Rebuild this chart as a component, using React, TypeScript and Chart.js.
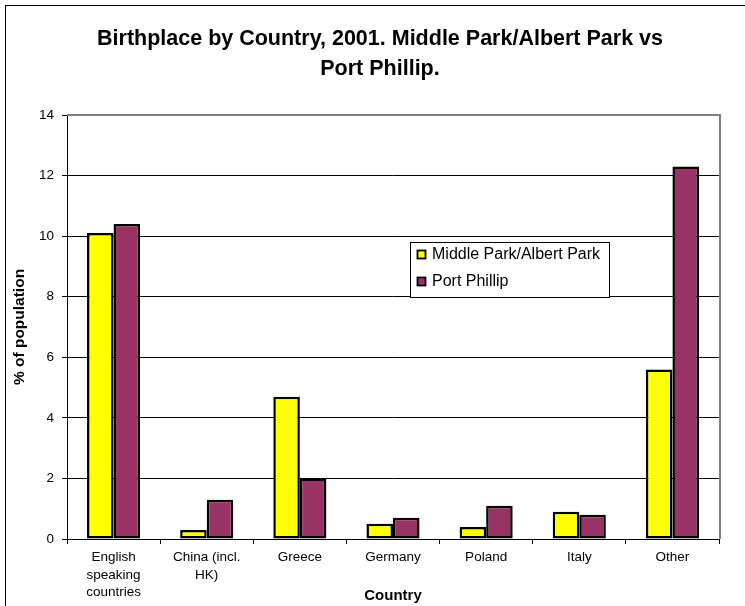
import React, { useEffect, useRef } from "react";
import { Chart, registerables } from "chart.js";

Chart.register(...registerables);

const categories: (string | string[])[] = [
  ["English", "speaking", "countries"],
  ["China (incl.", "HK)"],
  "Greece",
  "Germany",
  "Poland",
  "Italy",
  "Other",
];
const middleParkValues = [10.1, 0.3, 4.7, 0.5, 0.4, 0.9, 5.6];
const portPhillipValues = [10.4, 1.3, 2.0, 0.7, 1.1, 0.8, 12.3];
const seriesNames = ["Middle Park/Albert Park", "Port Phillip"];
const seriesColors = ["#FFFF00", "#993366"];
const titleLines = ["Birthplace by Country, 2001. Middle Park/Albert Park vs", "Port Phillip."];
const yTitle = "% of population";
const xTitle = "Country";

const FONT = "'Liberation Sans', Arial, Helvetica, sans-serif";

const frameAndLegend = {
  id: "frameAndLegend",
  beforeDraw(chart: any) {
    const ctx = chart.ctx;
    ctx.save();
    ctx.fillStyle = "#ffffff";
    ctx.fillRect(0, 0, chart.width, chart.height);
    ctx.strokeStyle = "#000000";
    ctx.lineWidth = 1;
    ctx.strokeRect(5.5, 5.5, chart.width + 20, chart.height + 20);
    ctx.restore();
  },
  afterDraw(chart: any) {
    const ctx = chart.ctx;
    const a = chart.chartArea;
    ctx.save();
    // top and right border of plot area
    ctx.strokeStyle = "#808080";
    ctx.lineWidth = 2;
    ctx.beginPath();
    ctx.moveTo(a.left, a.top);
    ctx.lineTo(a.right + 1, a.top);
    ctx.lineTo(a.right + 1, a.bottom);
    ctx.stroke();
    // legend
    const lx = 410.5, ly = 242.5, lw = 199, lh = 55;
    ctx.fillStyle = "#ffffff";
    ctx.fillRect(lx, ly, lw, lh);
    ctx.strokeStyle = "#000000";
    ctx.lineWidth = 1;
    ctx.strokeRect(lx, ly, lw, lh);
    ctx.font = `16px ${FONT}`;
    ctx.textBaseline = "middle";
    ctx.textAlign = "left";
    chart.data.datasets.forEach((ds: any, i: number) => {
      const cy = 255 + i * 27;
      ctx.fillStyle = ds.backgroundColor;
      ctx.fillRect(417.5, cy - 4.5, 8, 8);
      ctx.strokeStyle = "#000000";
      ctx.lineWidth = 1.8;
      ctx.strokeRect(417.5, cy - 4.5, 8, 8);
      ctx.fillStyle = "#000000";
      ctx.fillText(ds.label, 432, cy);
    });
    ctx.restore();
  },
};

export default function App() {
  const ref = useRef<HTMLCanvasElement>(null);
  useEffect(() => {
    const canvas = ref.current!;
    const chart = new Chart(canvas, {
      type: "bar",
      data: {
        labels: categories,
        datasets: [
          {
            label: seriesNames[0],
            data: middleParkValues,
            backgroundColor: seriesColors[0],
            borderColor: "#000000",
            borderWidth: 2.5,
            borderSkipped: false,
            barPercentage: 1,
            categoryPercentage: 0.57,
          },
          {
            label: seriesNames[1],
            data: portPhillipValues,
            backgroundColor: seriesColors[1],
            borderColor: "#000000",
            borderWidth: 2.5,
            borderSkipped: false,
            barPercentage: 1,
            categoryPercentage: 0.57,
          },
        ],
      },
      options: {
        responsive: false,
        animation: false,
        devicePixelRatio: 1,
        layout: { padding: { left: 15, right: 0, top: 0, bottom: 0 } },
        plugins: {
          legend: { display: false },
          tooltip: { enabled: false },
          title: {
            display: true,
            text: titleLines,
            color: "#000000",
            font: { family: FONT, size: 21.5, weight: "bold", lineHeight: "30px" as any },
            padding: { top: 24, bottom: 31 },
          },
        },
        scales: {
          x: {
            grid: {
              display: true,
              drawOnChartArea: false,
              drawTicks: true,
              tickLength: 5,
              color: "#000000",
              offset: true,
            },
            border: { display: true, color: "#000000", width: 1 },
            ticks: {
              color: "#000000",
              font: { family: FONT, size: 13.5, lineHeight: "17.5px" as any },
              padding: 5,
              maxRotation: 0,
              autoSkip: false,
            },
            title: {
              display: true,
              text: xTitle,
              color: "#000000",
              font: { family: FONT, size: 15, weight: "bold", lineHeight: 1.2 },
              padding: { top: 0, bottom: 1.5 },
            },
            afterFit: (s: any) => {
              s.height = 606 - 539;
            },
          },
          y: {
            min: 0,
            max: 14,
            ticks: {
              stepSize: 2,
              color: "#000000",
              font: { family: FONT, size: 13.5 },
              padding: 8,
            },
            grid: {
              color: (c: any) => (c.tick && c.tick.value === 14 ? "rgba(0,0,0,0)" : "#000000"),
              tickColor: "#000000",
              lineWidth: 1,
              tickLength: 5,
            },
            border: { display: true, color: "#000000", width: 1 },
            title: {
              display: true,
              text: yTitle,
              color: "#000000",
              font: { family: FONT, size: 15.5, weight: "bold", lineHeight: 1.2 },
              padding: { top: -5, bottom: 0 },
            },
            afterFit: (s: any) => {
              s.width = 67 - 15;
            },
          },
          y2: {
            position: "right",
            min: 0,
            max: 14,
            ticks: { display: false },
            grid: { display: false },
            border: { display: false },
            afterFit: (s: any) => {
              s.width = 745 - 719;
            },
          },
        },
      },
      plugins: [frameAndLegend],
    });
    return () => chart.destroy();
  }, []);
  return (
    <div style={{ position: "fixed", left: 0, top: 0, width: 745, height: 606, background: "#fff" }}>
      <canvas ref={ref} width={745} height={606} style={{ display: "block", width: 745, height: 606 }} />
    </div>
  );
}
